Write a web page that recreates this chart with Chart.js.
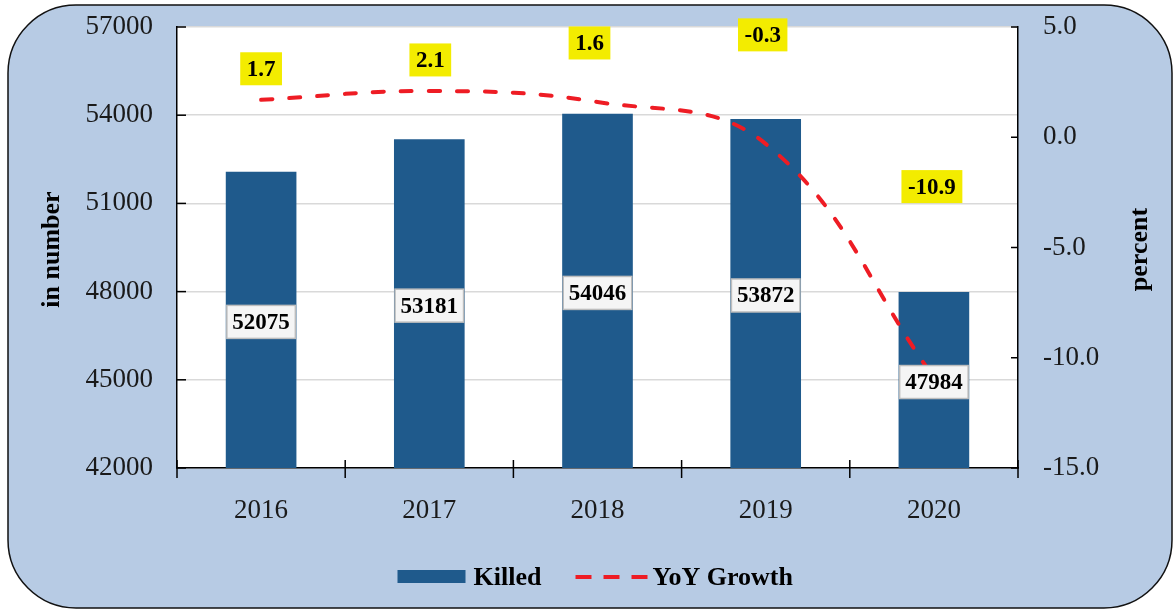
<!DOCTYPE html>
<html>
<head>
<meta charset="utf-8">
<script src="https://cdn.jsdelivr.net/npm/chart.js@4.4.1/dist/chart.umd.min.js"></script>
<style>
html, body { margin: 0; padding: 0; background: #ffffff; }
canvas { display: block; }
</style>
</head>
<body>
<canvas id="chart" width="1174" height="610"></canvas>
<script>
// --- data ---
const years = ['2016', '2017', '2018', '2019', '2020'];
const killed = [52075, 53181, 54046, 53872, 47984];
const yoyGrowth = [1.7, 2.1, 1.6, -0.3, -10.9];
const leftTicks = [42000, 45000, 48000, 51000, 54000, 57000];
const rightTicks = [-15, -10, -5, 0, 5];

// where each yellow growth label sits, relative to its point (px)
const growthLabelShift = [[0, -31], [1, -31], [-8, -59], [-3, -109], [-2, -191]];

const BG_BLUE = '#b7cbe4';
const BAR_BLUE = '#1f5a8c';
const LINE_RED = '#ee1c24';
const TAG_YELLOW = '#f3ec00';
const SERIF = '"Liberation Serif", "Times New Roman", serif';

function seg(ctx, x1, y1, x2, y2) {
    ctx.beginPath();
    ctx.moveTo(x1, y1);
    ctx.lineTo(x2, y2);
    ctx.stroke();
}

// rounded blue panel + white plot area
const backdrop = {
    id: 'backdrop',
    beforeDraw(chart) {
        const ctx = chart.ctx;
        const a = chart.chartArea;
        ctx.save();
        ctx.fillStyle = '#ffffff';
        ctx.fillRect(0, 0, chart.width, chart.height);
        ctx.beginPath();
        ctx.roundRect(8, 5, 1164, 603, 68);
        ctx.fillStyle = BG_BLUE;
        ctx.fill();
        ctx.lineWidth = 1.5;
        ctx.strokeStyle = '#111111';
        ctx.stroke();
        ctx.fillStyle = '#ffffff';
        ctx.fillRect(a.left, a.top, a.right - a.left, a.bottom - a.top);
        ctx.restore();
    }
};

// value boxes on bars and yellow growth tags
const valueTags = {
    id: 'valueTags',
    afterDatasetsDraw(chart) {
        const ctx = chart.ctx;
        const sy = chart.scales.y;
        const lineMeta = chart.getDatasetMeta(0);
        const barMeta = chart.getDatasetMeta(1);
        const basePx = sy.getPixelForValue(sy.min);
        ctx.save();
        ctx.font = `bold 23px ${SERIF}`;
        ctx.textAlign = 'center';
        ctx.textBaseline = 'middle';

        barMeta.data.forEach((bar, i) => {
            const txt = String(killed[i]);
            const cx = bar.x;
            const cy = (sy.getPixelForValue(killed[i]) + basePx) / 2 + 2;
            const w = ctx.measureText(txt).width + 11;
            const h = 33;
            ctx.fillStyle = '#f5f5f5';
            ctx.fillRect(cx - w / 2, cy - h / 2, w, h);
            ctx.strokeStyle = '#bdbdbd';
            ctx.lineWidth = 1.5;
            ctx.strokeRect(cx - w / 2, cy - h / 2, w, h);
            ctx.fillStyle = '#000000';
            ctx.fillText(txt, cx, cy + 1);
        });

        lineMeta.data.forEach((pt, i) => {
            const txt = yoyGrowth[i].toFixed(1);
            const cx = pt.x + growthLabelShift[i][0];
            const cy = pt.y + growthLabelShift[i][1];
            const w = ctx.measureText(txt).width + 13;
            const h = 33;
            ctx.fillStyle = TAG_YELLOW;
            ctx.fillRect(cx - w / 2, cy - h / 2, w, h);
            ctx.fillStyle = '#000000';
            ctx.fillText(txt, cx, cy + 1);
        });
        ctx.restore();
    }
};

// inward tick marks, rotated axis titles, legend
const extras = {
    id: 'extras',
    afterDraw(chart) {
        const ctx = chart.ctx;
        const a = chart.chartArea;
        const sx = chart.scales.x, sy = chart.scales.y, sy2 = chart.scales.y2;
        ctx.save();
        ctx.strokeStyle = '#000000';
        ctx.lineWidth = 1.5;
        leftTicks.forEach(v => {
            const py = sy.getPixelForValue(v);
            seg(ctx, a.left, py, a.left + 9, py);
        });
        rightTicks.forEach(v => {
            const py = sy2.getPixelForValue(v);
            seg(ctx, a.right - 7, py, a.right, py);
        });
        for (let i = 0; i <= years.length; i++) {
            const px = sx.getPixelForValue(i - 0.5);
            seg(ctx, px, a.bottom - 8, px, a.bottom + 10);
        }

        // axis titles
        ctx.fillStyle = '#000000';
        ctx.font = `bold 26px ${SERIF}`;
        ctx.textAlign = 'center';
        ctx.textBaseline = 'middle';
        const midY = (a.top + a.bottom) / 2 + 2;
        [['in number', 52], ['percent', 1140]].forEach(([t, x]) => {
            ctx.save();
            ctx.translate(x, midY);
            ctx.rotate(-Math.PI / 2);
            ctx.fillText(t, 0, 0);
            ctx.restore();
        });

        // legend
        const lx = (a.left + a.right) / 2 - 200;
        const ly = 577;
        ctx.fillStyle = BAR_BLUE;
        ctx.fillRect(lx, ly - 7, 68, 13);
        ctx.fillStyle = '#000000';
        ctx.textAlign = 'left';
        ctx.fillText('Killed', lx + 76, ly + 1);
        ctx.strokeStyle = LINE_RED;
        ctx.lineWidth = 4;
        for (let k = 0; k < 3; k++) {
            seg(ctx, lx + 178 + k * 28, ly, lx + 194 + k * 28, ly);
        }
        ctx.fillText('YoY Growth', lx + 255, ly + 1);
        ctx.restore();
    }
};

// fixed axis box sizes so the plot area lands where the original has it
function fixWidth(w) {
    return s => {
        s.width = w;
        s.paddingTop = 0;
        s.paddingBottom = 0;
    };
}

new Chart(document.getElementById('chart'), {
    data: {
        labels: years,
        datasets: [
            {
                type: 'line',
                label: 'YoY Growth',
                data: yoyGrowth,
                yAxisID: 'y2',
                borderColor: LINE_RED,
                borderWidth: 4,
                borderDash: [11, 17],
                borderCapStyle: 'round',
                tension: 0.4,
                pointRadius: 0,
                fill: false,
                order: 0
            },
            {
                type: 'bar',
                label: 'Killed',
                data: killed,
                yAxisID: 'y',
                backgroundColor: BAR_BLUE,
                categoryPercentage: 1,
                barPercentage: 0.42,
                order: 1
            }
        ]
    },
    options: {
        responsive: false,
        animation: false,
        devicePixelRatio: 1,
        events: [],
        layout: { padding: { top: 27, left: 0, right: 0, bottom: 0 } },
        plugins: {
            legend: { display: false },
            tooltip: { enabled: false }
        },
        scales: {
            x: {
                offset: true,
                grid: { display: false, drawTicks: false },
                border: { display: true, color: '#000000', width: 1.5 },
                ticks: { color: '#1a1a1a', font: { family: SERIF, size: 27 }, padding: 27 },
                afterFit(s) {
                    s.height = 142;
                    s.paddingLeft = 0;
                    s.paddingRight = 0;
                }
            },
            y: {
                position: 'left',
                min: 42000,
                max: 57000,
                afterBuildTicks(s) { s.ticks = leftTicks.map(v => ({ value: v })); },
                grid: { color: '#d9d9d9', lineWidth: 1.5, drawTicks: false },
                border: { color: '#000000', width: 1.5 },
                ticks: {
                    color: '#1a1a1a',
                    font: { family: SERIF, size: 27 },
                    padding: 24,
                    callback: v => String(v)
                },
                afterFit: fixWidth(177)
            },
            y2: {
                position: 'right',
                min: -15,
                max: 5,
                afterBuildTicks(s) { s.ticks = rightTicks.map(v => ({ value: v })); },
                grid: { display: false, drawTicks: false },
                border: { color: '#000000', width: 1.5 },
                ticks: {
                    color: '#1a1a1a',
                    font: { family: SERIF, size: 27 },
                    padding: 25,
                    callback: v => Number(v).toFixed(1)
                },
                afterFit: fixWidth(156)
            }
        }
    },
    plugins: [backdrop, valueTags, extras]
});
</script>
</body>
</html>
